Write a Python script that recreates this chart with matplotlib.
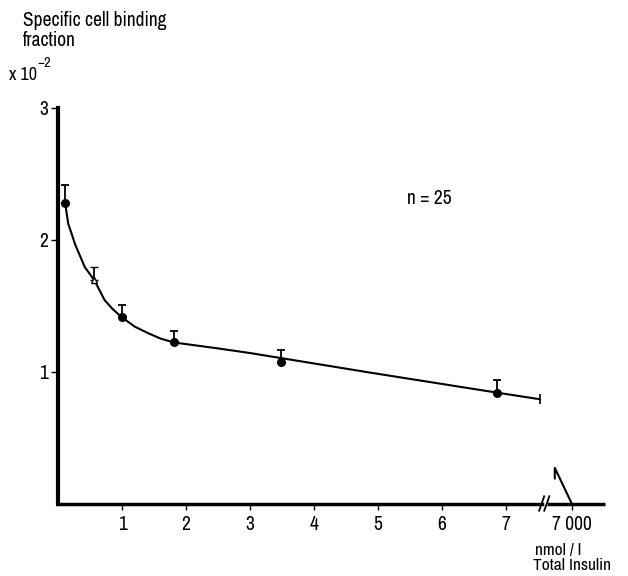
import matplotlib
matplotlib.use("Agg")
import matplotlib.pyplot as plt

# narrow grotesque like the original typesetting, DejaVu as fallback
plt.rcParams["font.family"] = ["Archivo Narrow", "DejaVu Sans"]

# measured points: total insulin (nmol/l) vs specific binding fraction (x10^-2)
insulin = [0.11, 0.57, 1.0, 1.81, 3.49, 6.86]
binding = [2.28, 1.69, 1.41, 1.22, 1.07, 0.84]
err_up = [0.13, 0.10, 0.095, 0.09, 0.095, 0.095]

# hand-drawn fitted curve
curve_x = [0.11, 0.16, 0.27, 0.42, 0.57, 0.73, 0.85, 1.0, 1.2, 1.41, 1.6, 1.81,
           2.5, 3.0, 4.9, 6.86, 7.53]
curve_y = [2.28, 2.12, 1.96, 1.79, 1.69, 1.54, 1.475, 1.41, 1.34, 1.29, 1.25, 1.22,
           1.175, 1.14, 0.99, 0.84, 0.79]
end_x, end_y = 7.53, 0.79

# the 7000 nmol/l point sits past the axis break
break_x = [7.56, 7.64]
x_ticks = [1, 2, 3, 4, 5, 6, 7, 8.03]
x_labels = ["1", "2", "3", "4", "5", "6", "7", "7 000"]
y_ticks = [1, 2, 3]
tail_x = [7.765, 7.765, 8.03]
tail_y = [0.19, 0.27, 0.0]

W, H = 628, 576
fig = plt.figure(figsize=(W / 100, H / 100), dpi=100)
ax = fig.add_axes([58 / W, 1 - 503.5 / H, (605 - 58) / W, (503.5 - 107.5) / H])
ax.set_xlim(0, 8.55)
ax.set_ylim(0, 3)

ax.plot(curve_x, curve_y, color="black", lw=1.5)
ax.plot([end_x], [end_y], marker="|", ms=7, mew=1.2, color="black")

filled = [i for i in range(len(insulin)) if i != 1]
ax.errorbar([insulin[i] for i in filled], [binding[i] for i in filled],
            yerr=[[0] * len(filled), [err_up[i] for i in filled]],
            fmt="o", ms=5.5, color="black", ecolor="black", elinewidth=1.3,
            capsize=3, capthick=1.3)
ax.errorbar([insulin[1]], [binding[1]], yerr=[[0], [err_up[1]]],
            fmt="^", ms=4, mfc="white", mec="black", mew=1, ecolor="black",
            elinewidth=1.3, capsize=3, capthick=1.3)

ax.plot(tail_x, tail_y, color="black", lw=1.5, clip_on=False)

for s in ("top", "right"):
    ax.spines[s].set_visible(False)
ax.spines["left"].set_linewidth(3)
ax.spines["bottom"].set_linewidth(2.5)
ax.spines["bottom"].set_bounds(0, break_x[0])
ax.plot([break_x[1], 8.55], [0, 0], color="black", lw=2.5, clip_on=False,
        solid_capstyle="butt")
for bx in break_x:
    ax.plot([bx - 0.04, bx + 0.04], [-0.055, 0.055], color="black", lw=1.3,
            clip_on=False)

ax.set_xticks(x_ticks)
ax.set_xticklabels(x_labels)
ax.set_yticks(y_ticks)
ax.tick_params(axis="x", direction="out", length=4, width=1, pad=4, labelsize=14)
ax.tick_params(axis="y", direction="out", length=5, width=1, pad=2, labelsize=14)


def ftext(x, y, s, **kw):
    fig.text(x / W, 1 - y / H, s, va="center", ha="left", **kw)


ftext(407, 199, "n = 25", fontsize=14)
ftext(23, 21, "Specific cell binding", fontsize=14)
ftext(23, 40, "fraction", fontsize=14)
ftext(9, 75, "x 10", fontsize=13)
ftext(37, 63, "−2", fontsize=10.5)
ftext(535, 550, "nmol / l", fontsize=12.5)
ftext(533, 566, "Total Insulin", fontsize=12.5)

fig.savefig("out.png", dpi=100)
